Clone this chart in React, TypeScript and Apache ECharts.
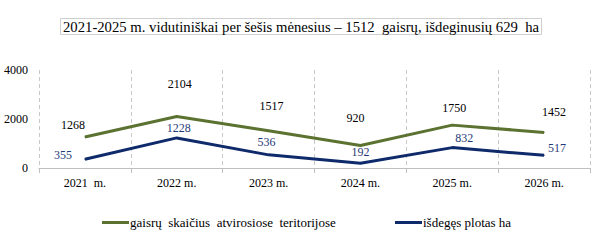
import React, { useEffect, useRef } from "react";
import * as echarts from "echarts";

const categories = ["2021  m.", "2022 m.", "2023 m.", "2024 m.", "2025 m.", "2026 m."];
const firesCount = [1268, 2104, 1517, 920, 1750, 1452];
const burnedArea = [355, 1228, 536, 192, 832, 517];
const yTicks = [0, 2000, 4000];
const titleText = "2021-2025 m. vidutiniškai per šešis mėnesius – 1512  gaisrų, išdeginusių 629  ha";
const seriesNames = ["gaisrų  skaičius  atvirosiose  teritorijose", "išdegęs plotas ha"];

// label offsets (style only)
const firesLabelOffsets = [[-12, -12], [3, -32], [3, -25], [-5, -27], [2, -17], [10, -20]];
const areaLabelOffsets = [[-22, -4], [2, -10], [-2, -13], [0, -11], [12, -10], [13, -7]];

const FONT = "Liberation Serif";

const legendBase = {
  top: 211,
  itemWidth: 27,
  itemHeight: 3,
  icon: "rect",
  textStyle: { fontFamily: FONT, fontSize: 13, color: "#000", padding: [0, 0, 0, -4] },
};

export default function App() {
  const ref = useRef<HTMLDivElement>(null);
  useEffect(() => {
    document.body.style.margin = "0";
    if (!ref.current) return;
    const chart = echarts.init(ref.current, null, { renderer: "svg" });
    chart.setOption({
      animation: false,
      backgroundColor: "#ffffff",
      textStyle: { fontFamily: FONT },
      title: {
        text: titleText,
        left: 60,
        top: 18,
        padding: [1, 3, 1, 3],
        borderColor: "#cfcfcf",
        borderWidth: 1,
        textStyle: { fontFamily: FONT, fontSize: 14.7, fontWeight: "normal", color: "#000" },
      },
      legend: [
        { ...legendBase, left: 97, data: [seriesNames[0]] },
        { ...legendBase, left: 390, data: [seriesNames[1]] },
      ],
      grid: { left: 39, right: 23, top: 70, bottom: 75, containLabel: false },
      xAxis: {
        type: "category",
        data: categories,
        boundaryGap: true,
        axisLine: { lineStyle: { color: "#bfbfbf" } },
        axisTick: { show: true, length: 5, lineStyle: { color: "#bfbfbf" } },
        axisLabel: { fontFamily: FONT, fontSize: 12, color: "#000", margin: 9 },
        splitLine: { show: true, lineStyle: { color: "#c8c8c8", type: [4, 3] } },
      },
      yAxis: {
        type: "value",
        min: yTicks[0],
        max: yTicks[yTicks.length - 1],
        interval: yTicks[1] - yTicks[0],
        axisLine: { show: false },
        axisTick: { show: false },
        splitLine: { show: false },
        axisLabel: {
          fontFamily: FONT,
          fontSize: 12,
          color: "#000",
          margin: 11,
          formatter: (v: number) => String(v),
        },
      },
      series: [
        {
          name: seriesNames[0],
          type: "line",
          symbol: "circle",
          symbolSize: 1,
          showSymbol: true,
          color: "#5b7230",
          itemStyle: { color: "#5b7230" },
          lineStyle: { width: 3, color: "#5b7230" },
          emphasis: { disabled: true },
          label: {
            show: true,
            position: "inside",
            fontFamily: FONT,
            fontSize: 12,
            color: "#000",
          },
          data: firesCount.map((v, i) => ({ value: v, label: { offset: firesLabelOffsets[i] } })),
        },
        {
          name: seriesNames[1],
          type: "line",
          symbol: "circle",
          symbolSize: 1,
          showSymbol: true,
          color: "#0e2a6a",
          itemStyle: { color: "#0e2a6a" },
          lineStyle: { width: 3, color: "#0e2a6a" },
          emphasis: { disabled: true },
          label: {
            show: true,
            position: "inside",
            fontFamily: FONT,
            fontSize: 12,
            color: "#1f3a78",
          },
          data: burnedArea.map((v, i) => ({ value: v, label: { offset: areaLabelOffsets[i] } })),
        },
      ],
    });
    return () => chart.dispose();
  }, []);
  return <div ref={ref} style={{ width: 613, height: 243 }} />;
}
